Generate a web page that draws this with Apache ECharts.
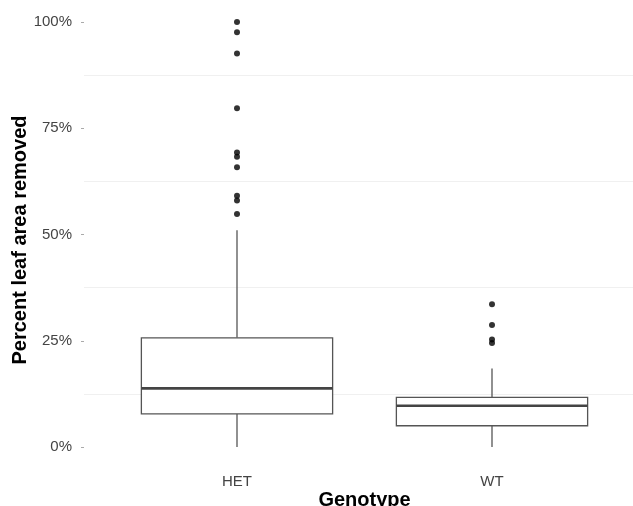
<!DOCTYPE html>
<html>
<head>
<meta charset="utf-8">
<script src="https://cdn.jsdelivr.net/npm/echarts@6/dist/echarts.min.js"></script>
<style>html,body{margin:0;padding:0;background:#fff}#c{width:633px;height:506px}</style>
</head>
<body>
<div id="c"></div>
<script>
// ---- data ----
const categories = ['HET', 'WT'];
// [low whisker, Q1, median, Q3, high whisker] in percent
const hetBox = [0, 7.8, 13.8, 25.7, 51];
const wtBox = [0, 5.0, 9.7, 11.7, 18.5];
const hetOutliers = [100, 97.6, 92.6, 79.7, 69.3, 68.3, 65.8, 59.1, 58.0, 54.8];
const wtOutliers = [33.6, 28.7, 25.3, 24.5];
const yTicks = [0, 25, 50, 75, 100];

const boxData = [[1].concat(hetBox), [2].concat(wtBox)];
const outlierData = hetOutliers.map(v => [1, v]).concat(wtOutliers.map(v => [2, v]));

const chart = echarts.init(document.getElementById('c'), null, {renderer: 'canvas'});
const font = 'Liberation Sans, Arial, Helvetica, sans-serif';
const boxColor = '#555555';

chart.setOption({
  animation: false,
  backgroundColor: '#ffffff',
  grid: {left: 84, width: 561, top: 22, bottom: 59, containLabel: false, outerBoundsMode: 'none'},
  xAxis: {
    type: 'value', min: 0.4, max: 2.6,
    axisLine: {show: false}, axisTick: {show: false}, splitLine: {show: false},
    axisLabel: {
      customValues: [1, 2],
      formatter: v => categories[Math.round(v) - 1] || '',
      fontFamily: font, fontSize: 15, color: '#444', margin: 27
    },
    name: 'Genotype', nameLocation: 'middle', nameGap: 43, nameMoveOverlap: false,
    nameTextStyle: {fontFamily: font, fontSize: 20, fontWeight: 'bold', color: '#000'}
  },
  yAxis: {
    type: 'value', min: yTicks[0], max: yTicks[yTicks.length - 1], interval: 25,
    axisLine: {show: false},
    axisTick: {show: true, length: 3, lineStyle: {color: '#aaa', width: 1}},
    axisLabel: {formatter: '{value}%', fontFamily: font, fontSize: 15, color: '#444', margin: 12},
    splitLine: {show: false},
    minorTick: {show: false, splitNumber: 2},
    minorSplitLine: {show: true, lineStyle: {color: '#f0f0f0', width: 1}},
    name: 'Percent leaf area removed', nameLocation: 'middle', nameGap: 54, nameMoveOverlap: false,
    nameTextStyle: {fontFamily: font, fontSize: 20, fontWeight: 'bold', color: '#000', padding: [0, 11, 0, 0]}
  },
  series: [
    {
      type: 'custom',
      data: boxData,
      clip: false,
      renderItem: function (params, api) {
        const x = api.value(0);
        const low = api.coord([x, api.value(1)]);
        const q1 = api.coord([x, api.value(2)]);
        const med = api.coord([x, api.value(3)]);
        const q3 = api.coord([x, api.value(4)]);
        const high = api.coord([x, api.value(5)]);
        const half = api.size([0.75, 0])[0] / 2;
        const ls = {stroke: boxColor, lineWidth: 1.3, fill: null};
        return {
          type: 'group',
          children: [
            {type: 'line', shape: {x1: high[0], y1: high[1], x2: q3[0], y2: q3[1]}, style: ls},
            {type: 'line', shape: {x1: q1[0], y1: q1[1], x2: low[0], y2: low[1]}, style: ls},
            {type: 'rect', shape: {x: q3[0] - half, y: q3[1], width: half * 2, height: q1[1] - q3[1]},
              style: {stroke: boxColor, lineWidth: 1.3, fill: '#ffffff'}},
            {type: 'line', shape: {x1: med[0] - half, y1: med[1], x2: med[0] + half, y2: med[1]},
              style: {stroke: '#444444', lineWidth: 2.6}}
          ]
        };
      }
    },
    {
      type: 'scatter',
      data: outlierData,
      clip: false,
      symbol: 'circle',
      symbolSize: 6,
      itemStyle: {color: '#000000'}
    }
  ]
});
</script>
</body>
</html>
